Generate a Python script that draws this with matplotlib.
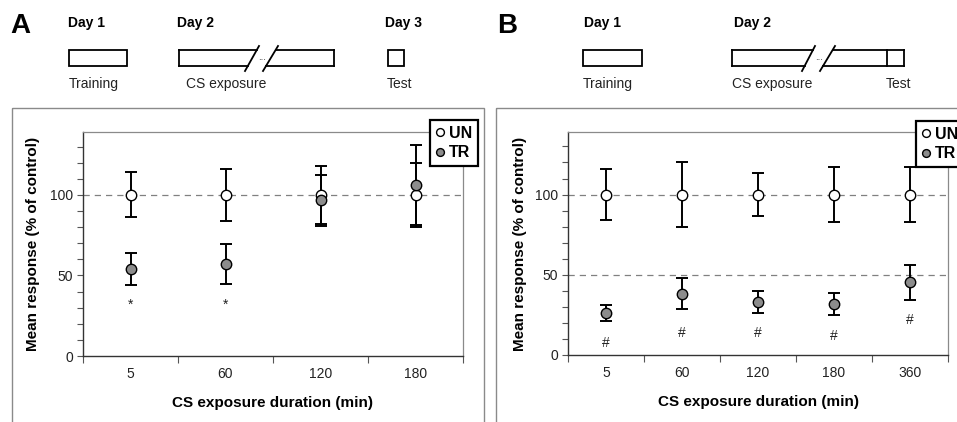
import matplotlib
matplotlib.use("Agg")
import matplotlib.pyplot as plt
from matplotlib.patches import Rectangle
import numpy as np

plt.rcParams['font.family'] = ['Liberation Sans', 'DejaVu Sans']

# ---------------- data ----------------
cats_a = ["5", "60", "120", "180"]
un_a = [100, 100, 100, 100]
un_a_err = [14, 16, 18, 20]
tr_a = [54, 57, 96.5, 106]
tr_a_err = [10, 12.5, 16, 25]
sig_a = ["*", "*", "", ""]
sig_a_y = [32, 32, None, None]

cats_b = ["5", "60", "120", "180", "360"]
un_b = [100, 100, 100, 100, 100]
un_b_err = [16, 20, 13.5, 17, 17]
tr_b = [26, 38.3, 33, 31.8, 45.3]
tr_b_err = [5, 9.5, 7, 7, 11]
sig_b = ["#", "#", "#", "#", "#"]
sig_b_y = [7.5, 13.7, 13.7, 12, 21.6]

W, H = 957, 422
fig = plt.figure(figsize=(W / 100, H / 100), dpi=100)

# overlay in pixel coordinates for the schematic
ov = fig.add_axes([0, 0, 1, 1], zorder=0)
ov.set_xlim(0, W)
ov.set_ylim(H, 0)
ov.axis('off')

LW = 1.3
def box(x0, x1, y0=49.5, y1=66):
    ov.add_patch(Rectangle((x0, y0), x1 - x0, y1 - y0, fill=False, lw=LW, ec='black'))

def broken_box(x0, x1, s1, s2, y0=49.5, y1=66, divider=None):
    def xat(s, y):
        xb, xt = s
        return xb + (71 - y) * (xt - xb) / 25.0
    ov.plot([x0, xat(s1, y0)], [y0, y0], color='black', lw=LW)
    ov.plot([x0, xat(s1, y1)], [y1, y1], color='black', lw=LW)
    ov.plot([x0, x0], [y0, y1], color='black', lw=LW)
    ov.plot([xat(s2, y0), x1], [y0, y0], color='black', lw=LW)
    ov.plot([xat(s2, y1), x1], [y1, y1], color='black', lw=LW)
    ov.plot([x1, x1], [y0, y1], color='black', lw=LW)
    for s in (s1, s2):
        ov.plot([s[0], s[1]], [71, 46], color='black', lw=LW)
    xm = (xat(s1, 57) + xat(s2, 57)) / 2
    ov.text(xm, 57, "...", ha='center', va='center', fontsize=7, color='#333333')
    if divider is not None:
        ov.plot([divider, divider], [y0, y1], color='black', lw=LW)

# Panel A schematic
ov.text(10, 33, "A", fontsize=20, fontweight='bold', ha='left', va='baseline')
ov.text(68, 27, "Day 1", fontsize=10, fontweight='bold', ha='left', va='baseline')
ov.text(177, 27, "Day 2", fontsize=10, fontweight='bold', ha='left', va='baseline')
ov.text(385, 27, "Day 3", fontsize=10, fontweight='bold', ha='left', va='baseline')
box(69, 127)
broken_box(179, 334, (245, 259), (263, 278))
box(388, 404)
ov.text(69, 88, "Training", fontsize=10, ha='left', va='baseline', color='#222222')
ov.text(186, 88, "CS exposure", fontsize=10, ha='left', va='baseline', color='#222222')
ov.text(387, 88, "Test", fontsize=10, ha='left', va='baseline', color='#222222')

# Panel B schematic
ov.text(497, 33, "B", fontsize=20, fontweight='bold', ha='left', va='baseline')
ov.text(584, 27, "Day 1", fontsize=10, fontweight='bold', ha='left', va='baseline')
ov.text(734, 27, "Day 2", fontsize=10, fontweight='bold', ha='left', va='baseline')
box(583, 642)
broken_box(732, 904, (802, 815), (820, 835), divider=887)
ov.text(583, 88, "Training", fontsize=10, ha='left', va='baseline', color='#222222')
ov.text(732, 88, "CS exposure", fontsize=10, ha='left', va='baseline', color='#222222')
ov.text(886, 88, "Test", fontsize=10, ha='left', va='baseline', color='#222222')

# panel outer boxes
ov.add_patch(Rectangle((12, 108), 472, 330, fill=False, lw=1.0, ec='#8a8a8a'))
ov.add_patch(Rectangle((496, 108), 470, 330, fill=False, lw=1.0, ec='#8a8a8a'))

GRAY = '#8c8c8c'

def panel(rect_px, cats, un, un_err, tr, tr_err, sig, sig_y, dashed, leg_xy, ylab_x):
    x0, x1, ytop, ybot = rect_px
    ax = fig.add_axes([x0 / W, 1 - ybot / H, (x1 - x0) / W, (ybot - ytop) / H], zorder=2)
    ax.patch.set_alpha(0)
    n = len(cats)
    pos = np.arange(n) + 0.5
    ax.set_xlim(0, n)
    ax.set_ylim(0, 139)
    for yv in dashed:
        ax.axhline(yv, color='#808080', lw=0.9, ls=(0, (5, 4)), zorder=1)
    ax.errorbar(pos, un, yerr=un_err, fmt='none', ecolor='black', elinewidth=1.4,
                capsize=4, capthick=1.4, zorder=3)
    ax.errorbar(pos, tr, yerr=tr_err, fmt='none', ecolor='black', elinewidth=1.4,
                capsize=4, capthick=1.4, zorder=3)
    l1, = ax.plot(pos, un, 'o', ms=7.5, mfc='white', mec='black', mew=1.0, label='UN', zorder=4)
    l2, = ax.plot(pos, tr, 'o', ms=7.5, mfc=GRAY, mec='black', mew=1.0, label='TR', zorder=5)
    for p, s, y in zip(pos, sig, sig_y):
        if s:
            ax.text(p, y, s, ha='center', va='center', fontsize=10, color='#222222')
    for side in ('top', 'right'):
        ax.spines[side].set_color('#8a8a8a')
        ax.spines[side].set_linewidth(0.9)
    for side in ('left', 'bottom'):
        ax.spines[side].set_color('#333333')
        ax.spines[side].set_linewidth(1.0)
    ax.set_yticks([0, 50, 100])
    ax.set_yticks(np.arange(0, 140, 10), minor=True)
    ax.tick_params(axis='y', which='both', direction='out', length=4, width=0.8,
                   color='#555555', labelsize=10, labelcolor='#222222', pad=3)
    ax.set_xticks(np.arange(0, n + 1))
    ax.set_xticklabels([])
    ax.set_xticks(pos, minor=True)
    ax.set_xticklabels(cats, minor=True)
    ax.tick_params(axis='x', which='major', direction='out', length=5, width=0.8, color='#555555')
    ax.tick_params(axis='x', which='minor', length=0, labelsize=10, labelcolor='#222222', pad=8)
    ax.set_xlabel("CS exposure duration (min)", fontsize=11, fontweight='bold', labelpad=11)
    ax.set_ylabel("Mean response (% of control)", fontsize=11, fontweight='bold')
    ax.yaxis.set_label_coords((ylab_x - x0) / (x1 - x0), 0.5)
    leg = ax.legend(handles=[l1, l2], loc='upper left',
                    bbox_to_anchor=(leg_xy[0] / W, 1 - leg_xy[1] / H),
                    bbox_transform=fig.transFigure, frameon=True, fancybox=False,
                    markerscale=0.75, handlelength=0.6, handletextpad=0.25,
                    borderpad=0.35, labelspacing=0.3, borderaxespad=0,
                    prop={'weight': 'bold', 'size': 11.5})
    leg.get_frame().set_edgecolor('black')
    leg.get_frame().set_linewidth(1.6)
    leg.get_frame().set_alpha(1)
    leg.set_zorder(10)
    return ax

panel((83, 463, 132, 356), cats_a, un_a, un_a_err, tr_a, tr_a_err, sig_a, sig_a_y,
      [100], (430, 120), 40)
panel((568, 948, 132, 355), cats_b, un_b, un_b_err, tr_b, tr_b_err, sig_b, sig_b_y,
      [100, 50], (916, 121), 527)

fig.savefig("out.png", dpi=100)
